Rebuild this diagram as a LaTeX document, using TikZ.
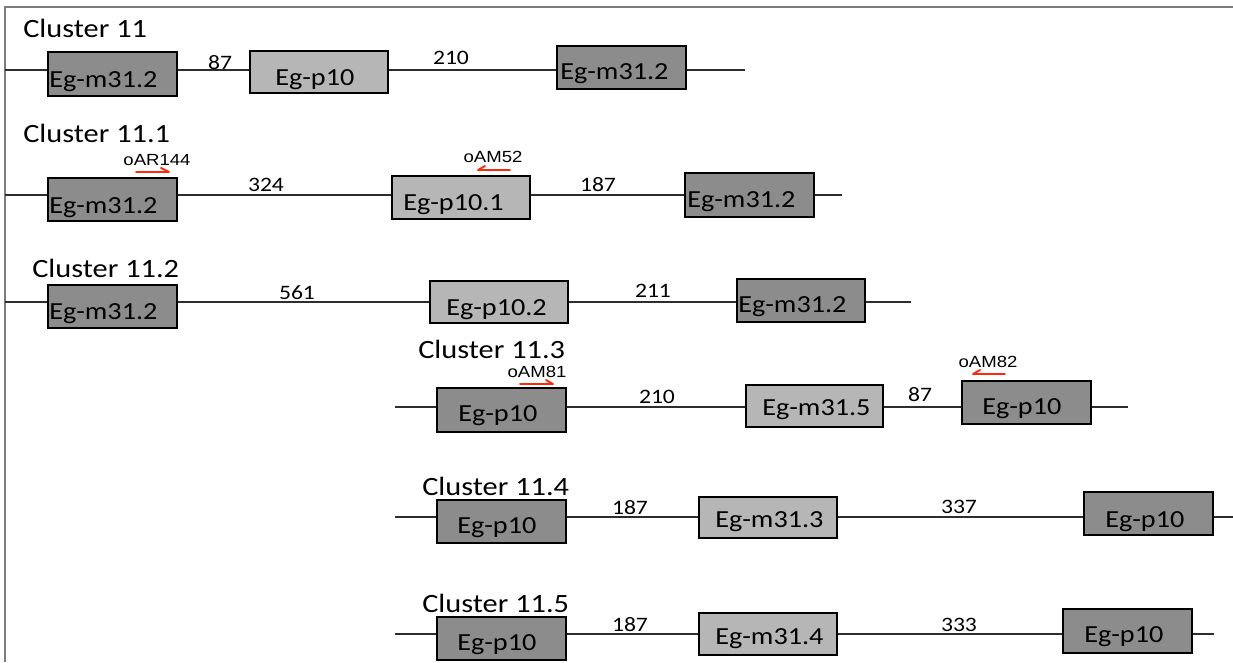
\documentclass[tikz,border=0pt]{standalone}
\usepackage{fontspec}
\setmainfont{Carlito}[FakeStretch=1.15]
\newfontfamily\arialf{Liberation Sans}[FakeStretch=1.15]
\usetikzlibrary{fit}
\definecolor{dk}{RGB}{140,140,140}
\definecolor{lt}{RGB}{182,182,182}
\definecolor{lc}{RGB}{45,45,45}
\definecolor{fc}{RGB}{125,125,125}
\definecolor{pr}{RGB}{255,40,10}
\begin{document}
\begin{tikzpicture}[x=0.75pt,y=-0.75pt,
  genebox/.style={draw=black, line width=1.3pt, inner sep=0pt},
  dbox/.style={genebox, fill=dk},
  lbox/.style={genebox, fill=lt},
  btxt/.style={anchor=base west, inner sep=0pt, font=\fontsize{18.4pt}{20pt}\selectfont},
  dist/.style={inner sep=0pt, font=\fontsize{15.4pt}{17pt}\selectfont},
  ttl/.style={anchor=base west, inner sep=0pt, font=\fontsize{19.8pt}{22pt}\selectfont},
  prm/.style={inner sep=0pt, font=\arialf\fontsize{12.1pt}{14pt}\selectfont},
  ln/.style={draw=lc, line width=1.1pt},
  parrow/.style={draw=pr, line width=1.4pt, line cap=round, line join=round}]
\useasboundingbox (0,0) rectangle (1233,662);
% frame
\draw[fc, line width=1.5pt] (5,662) -- (5,7) -- (1233,7);

% ---------- Row 1 ----------
\node[ttl] (t1) at (23,37) {Cluster 11};
\coordinate (r1s) at (5,70);
\coordinate (r1e) at (745,70);
\node[dbox, fit={(48,52)(177,96)}] (r1a) {};
\node[lbox, fit={(250,51)(388,93)}] (r1b) {};
\node[dbox, fit={(557,46)(686,89)}] (r1c) {};
\node[btxt] (r1at) at (49,87) {Eg-m31.2};
\node[btxt] (r1bt) at (275,85) {Eg-p10};
\node[btxt] (r1ct) at (560,79) {Eg-m31.2};
\draw[ln] (r1s) -- (r1a.west |- r1s);
\draw[ln] (r1a.east |- r1s) -- (r1b.west |- r1s);
\draw[ln] (r1b.east |- r1s) -- (r1c.west |- r1s);
\draw[ln] (r1c.east |- r1s) -- (r1e);
\node[dist] (r1d1) at (220,63) {87};
\node[dist] (r1d2) at (451,58) {210};

% ---------- Row 2 ----------
\node[ttl] (t2) at (23,142) {Cluster 11.1};
\coordinate (r2s) at (5,195);
\coordinate (r2e) at (842,195);
\node[dbox, fit={(48,178)(177,221)}] (r2a) {};
\node[lbox, fit={(392,176)(530,219)}] (r2b) {};
\node[dbox, fit={(685,173)(814,217)}] (r2c) {};
\node[btxt] (r2at) at (49,213) {Eg-m31.2};
\node[btxt] (r2bt) at (403,210) {Eg-p10.1};
\node[btxt] (r2ct) at (687,207) {Eg-m31.2};
\draw[ln] (r2s) -- (r2a.west |- r2s);
\draw[ln] (r2a.east |- r2s) -- (r2b.west |- r2s);
\draw[ln] (r2b.east |- r2s) -- (r2c.west |- r2s);
\draw[ln] (r2c.east |- r2s) -- (r2e);
\node[dist] (r2d1) at (266,185) {324};
\node[dist] (r2d2) at (598,185) {187};
\node[prm] (p1) at (157,160) {oAR144};
\draw[parrow] (136,172) -- (169,172) -- (161,168);
\node[prm] (p2) at (493,157) {oAM52};
\draw[parrow] (510,170) -- (478,170) -- (485,166);

% ---------- Row 3 ----------
\node[ttl] (t3) at (32,277) {Cluster 11.2};
\coordinate (r3s) at (5,302);
\coordinate (r3e) at (911,302);
\node[dbox, fit={(48,285)(177,328)}] (r3a) {};
\node[lbox, fit={(430,281)(568,323)}] (r3b) {};
\node[dbox, fit={(737,279)(865,322)}] (r3c) {};
\node[btxt] (r3at) at (49,319) {Eg-m31.2};
\node[btxt] (r3bt) at (446,315) {Eg-p10.2};
\node[btxt] (r3ct) at (738,312) {Eg-m31.2};
\draw[ln] (r3s) -- (r3a.west |- r3s);
\draw[ln] (r3a.east |- r3s) -- (r3b.west |- r3s);
\draw[ln] (r3b.east |- r3s) -- (r3c.west |- r3s);
\draw[ln] (r3c.east |- r3s) -- (r3e);
\node[dist] (r3d1) at (297,293) {561};
\node[dist] (r3d2) at (653,291) {211};

% ---------- Row 4 ----------
\node[ttl] (t4) at (418,358) {Cluster 11.3};
\coordinate (r4s) at (395,407);
\coordinate (r4e) at (1128,407);
\node[dbox, fit={(437,388)(566,432)}] (r4a) {};
\node[lbox, fit={(746,385)(883,427)}] (r4b) {};
\node[dbox, fit={(962,381)(1091,424)}] (r4c) {};
\node[btxt] (r4at) at (458,421) {Eg-p10};
\node[btxt] (r4bt) at (762,415) {Eg-m31.5};
\node[btxt] (r4ct) at (982,414) {Eg-p10};
\draw[ln] (r4s) -- (r4a.west |- r4s);
\draw[ln] (r4a.east |- r4s) -- (r4b.west |- r4s);
\draw[ln] (r4b.east |- r4s) -- (r4c.west |- r4s);
\draw[ln] (r4c.east |- r4s) -- (r4e);
\node[dist] (r4d1) at (657,397) {210};
\node[dist] (r4d2) at (920,395) {87};
\node[prm] (p3) at (537,372) {oAM81};
\draw[parrow] (520,384) -- (553,384) -- (546,380);
\node[prm] (p4) at (988,362) {oAM82};
\draw[parrow] (1005,374) -- (973,374) -- (980,370);

% ---------- Row 5 ----------
\node[ttl] (t5) at (422,495) {Cluster 11.4};
\coordinate (r5s) at (395,517);
\coordinate (r5e) at (1233,517);
\node[dbox, fit={(437,500)(566,543)}] (r5a) {};
\node[lbox, fit={(699,497)(837,538)}] (r5b) {};
\node[dbox, fit={(1084,492)(1213,535)}] (r5c) {};
\node[btxt] (r5at) at (457,533) {Eg-p10};
\node[btxt] (r5bt) at (715,527) {Eg-m31.3};
\node[btxt] (r5ct) at (1105,527) {Eg-p10};
\draw[ln] (r5s) -- (r5a.west |- r5s);
\draw[ln] (r5a.east |- r5s) -- (r5b.west |- r5s);
\draw[ln] (r5b.east |- r5s) -- (r5c.west |- r5s);
\draw[ln] (r5c.east |- r5s) -- (r5e);
\node[dist] (r5d1) at (630,508) {187};
\node[dist] (r5d2) at (959,507) {337};

% ---------- Row 6 ----------
\node[ttl] (t6) at (422,612) {Cluster 11.5};
\coordinate (r6s) at (395,634);
\coordinate (r6e) at (1214,634);
\node[dbox, fit={(437,617)(566,660)}] (r6a) {};
\node[lbox, fit={(699,613)(837,655)}] (r6b) {};
\node[dbox, fit={(1063,609)(1192,653)}] (r6c) {};
\node[btxt] (r6at) at (457,650) {Eg-p10};
\node[btxt] (r6bt) at (715,644) {Eg-m31.4};
\node[btxt] (r6ct) at (1084,642) {Eg-p10};
\draw[ln] (r6s) -- (r6a.west |- r6s);
\draw[ln] (r6a.east |- r6s) -- (r6b.west |- r6s);
\draw[ln] (r6b.east |- r6s) -- (r6c.west |- r6s);
\draw[ln] (r6c.east |- r6s) -- (r6e);
\node[dist] (r6d1) at (630,625) {187};
\node[dist] (r6d2) at (959,625) {333};
\end{tikzpicture}
\end{document}
